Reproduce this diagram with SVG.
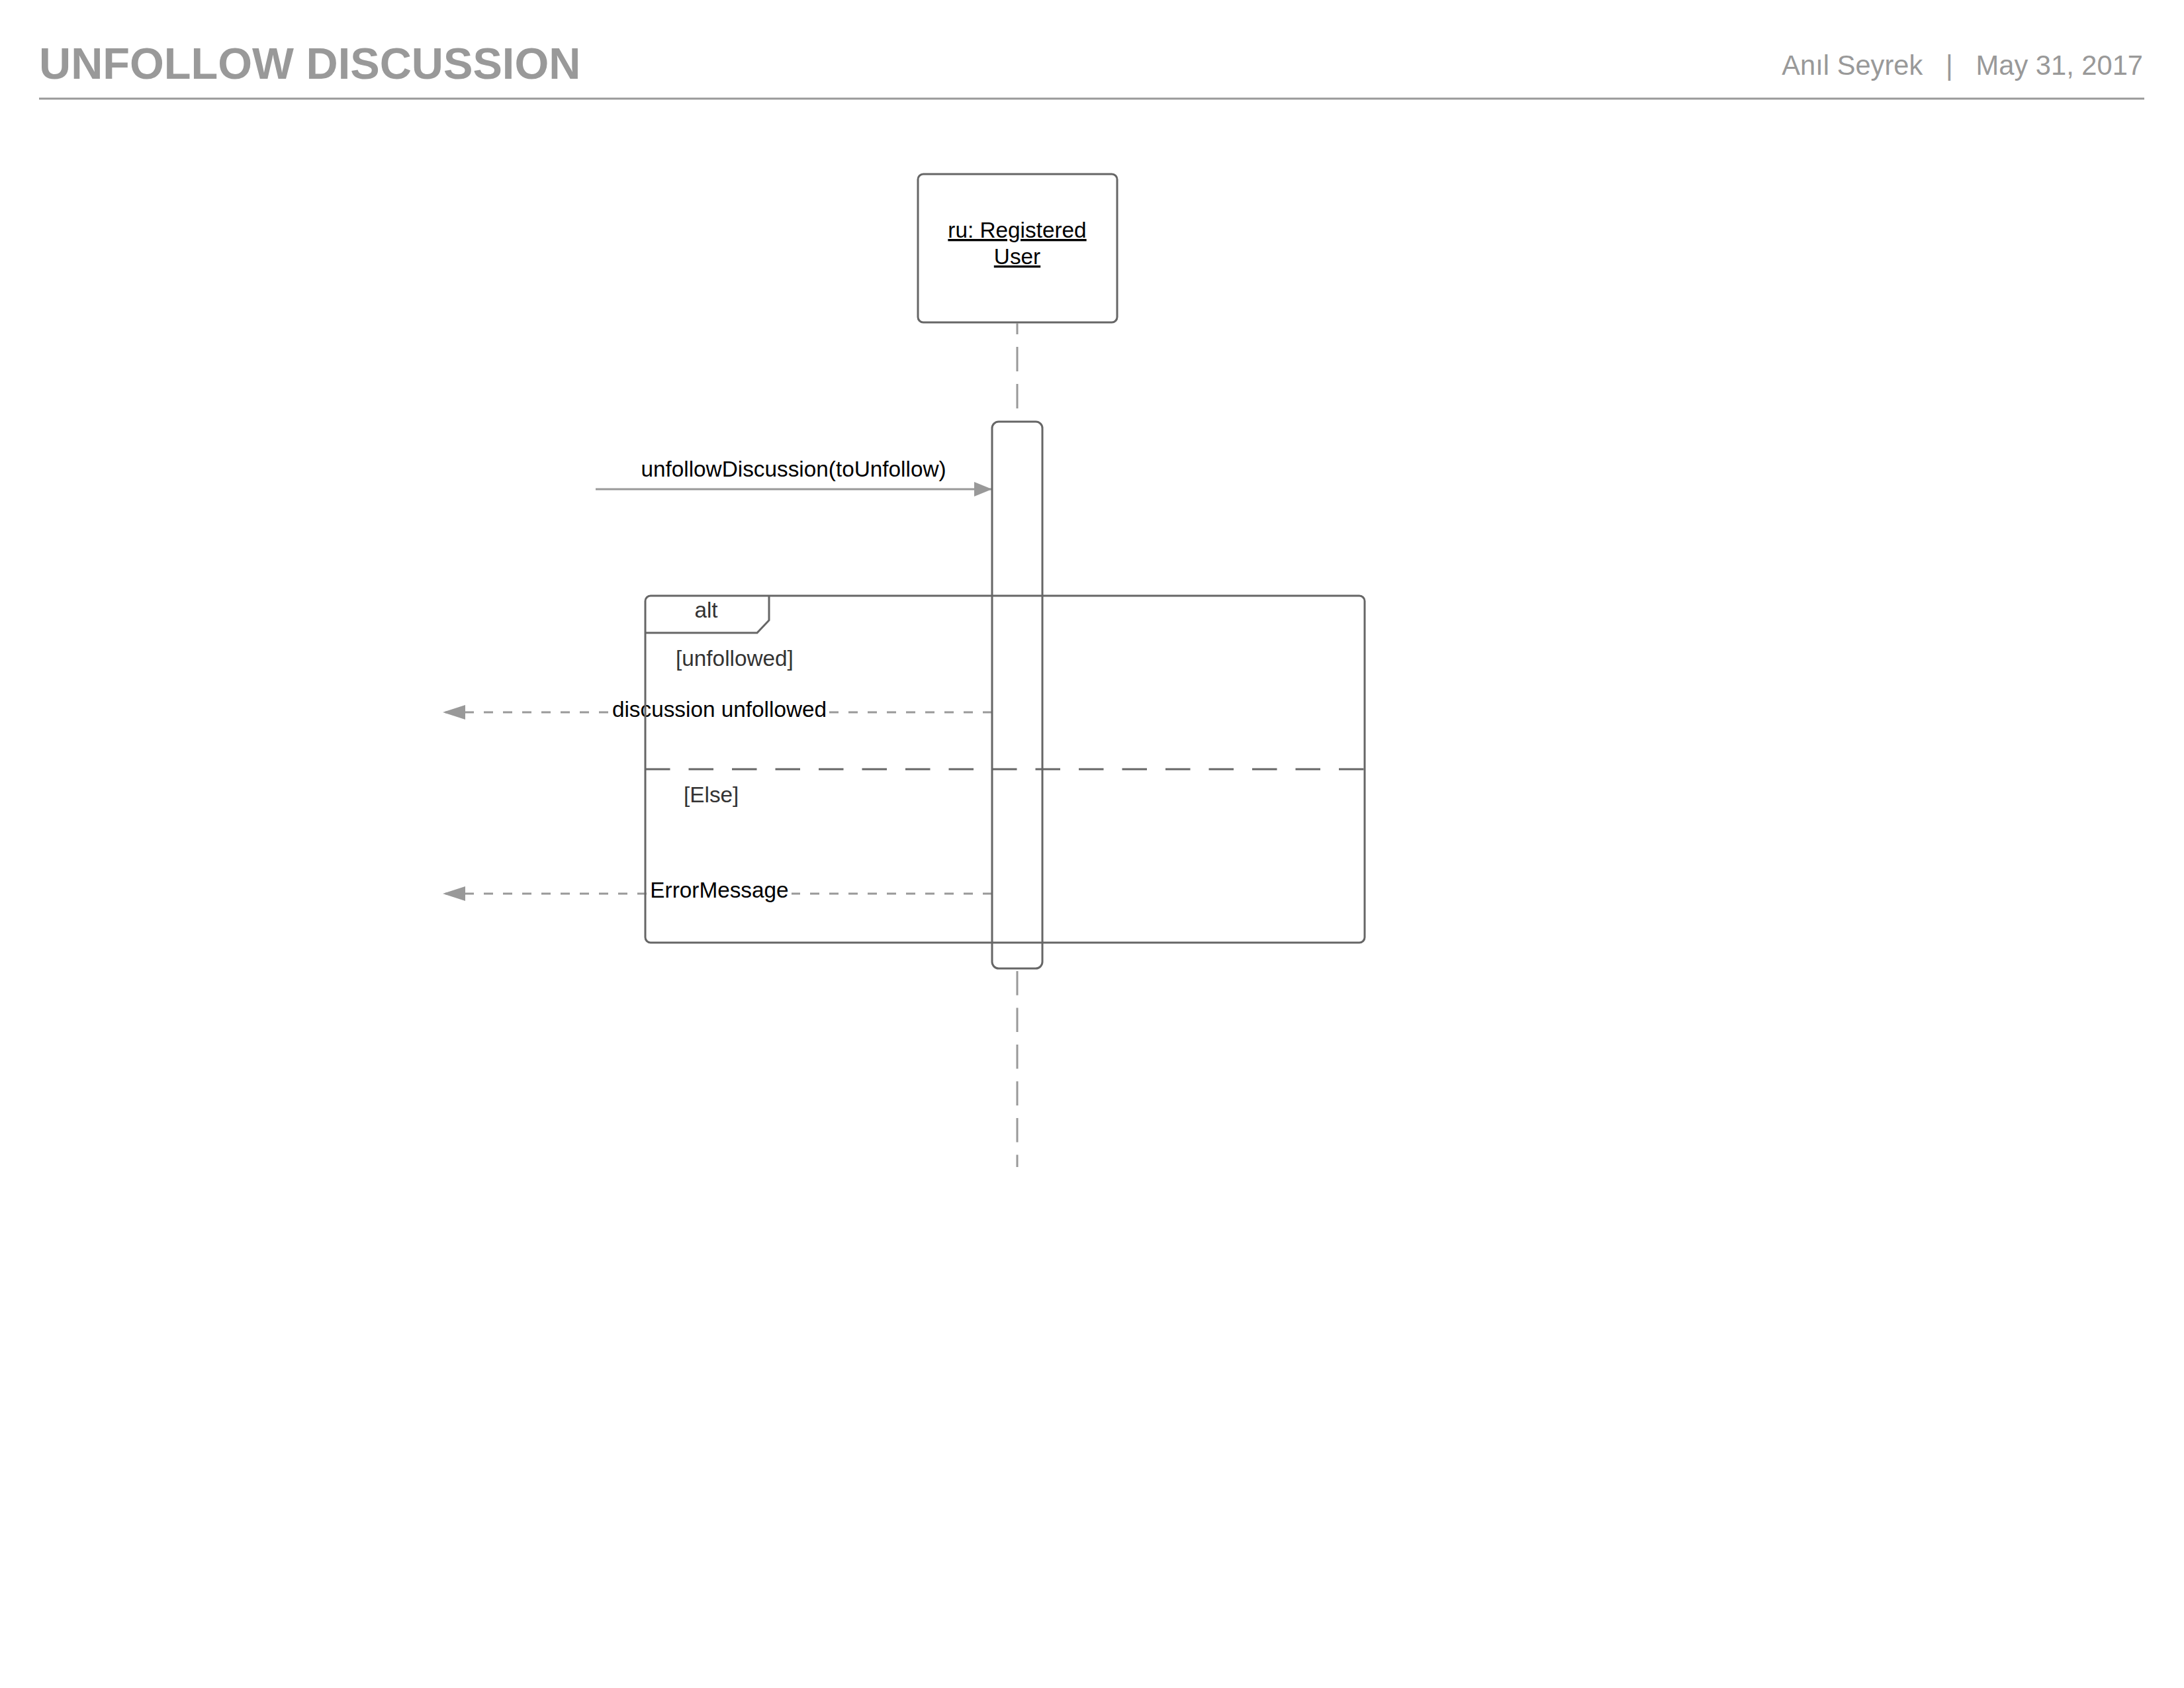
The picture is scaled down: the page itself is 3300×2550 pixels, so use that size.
<svg xmlns="http://www.w3.org/2000/svg" width="3300" height="2550" viewBox="0 0 3300 2550">
<style>
.hdr{font-family:"Liberation Sans",Arial,sans-serif;fill:#999999}
.t{font-family:"Liberation Sans",Arial,sans-serif;font-size:33.33px}
.box{fill:#ffffff;stroke:#666666;stroke-width:3}
.frame{fill:none;stroke:#666666;stroke-width:3}
.life{stroke:#999999;stroke-width:3;fill:none}
.msg{stroke:#999999;stroke-width:3;fill:none}
.ret{stroke:#999999;stroke-width:3;fill:none;stroke-dasharray:14 15}
.lbg{fill:#ffffff}
</style>
<defs>
<marker id="callHead" markerUnits="userSpaceOnUse" markerWidth="28" markerHeight="24" viewBox="0 -12 28 24" refX="27" refY="0" orient="auto">
<path d="M0,-11 L27,0 L0,11 z" fill="#999999"/>
</marker>
<marker id="retHead" markerUnits="userSpaceOnUse" markerWidth="35" markerHeight="24" viewBox="0 -12 35 24" refX="34" refY="0" orient="auto">
<path d="M0,-11 L34,0 L0,11 z" fill="#999999"/>
</marker>
</defs>
<rect width="3300" height="2550" fill="#ffffff"/>

<g id="header">
<text class="hdr" x="59" y="119" font-size="66.67" font-weight="bold">UNFOLLOW DISCUSSION</text>
<text class="hdr" x="3238" y="113" font-size="41.67" text-anchor="end" xml:space="preserve">Anıl Seyrek   |   May 31, 2017</text>
<line x1="59" y1="149" x2="3240" y2="149" stroke="#999999" stroke-width="3"/>
</g>

<g id="participant-ru">
<rect class="box" x="1387" y="263" width="301" height="224" rx="8"/>
<text class="t" x="1537" y="359" text-anchor="middle" text-decoration="underline" fill="#000000">ru: Registered</text>
<text class="t" x="1537" y="399" text-anchor="middle" text-decoration="underline" fill="#000000">User</text>
</g>

<g id="lifeline-ru">
<line class="life" x1="1537" y1="617" x2="1537" y2="488" stroke-dasharray="37 19"/>
<line class="life" x1="1537" y1="1467" x2="1537" y2="1763" stroke-dasharray="36.5 19"/>
</g>

<g id="connectors">
<line class="msg" x1="900" y1="739" x2="1499" y2="739" marker-end="url(#callHead)"/>
<text class="t" x="1199" y="720" text-anchor="middle" fill="#000000">unfollowDiscussion(toUnfollow)</text>

<line class="ret" x1="1499" y1="1076" x2="669" y2="1076" marker-end="url(#retHead)"/>
<rect class="lbg" x="921" y="1056" width="331" height="36"/>
<text class="t" x="1087" y="1083" text-anchor="middle" fill="#000000">discussion unfollowed</text>

<line class="ret" x1="1499" y1="1350" x2="669" y2="1350" marker-end="url(#retHead)"/>
<rect class="lbg" x="979" y="1330" width="217" height="38"/>
<text class="t" x="1087" y="1356" text-anchor="middle" fill="#000000">ErrorMessage</text>
</g>

<g id="alt-frame">
<rect class="frame" x="975" y="900" width="1087" height="524" rx="8"/>
<path class="frame" d="M975,956 H1144 L1162,937 V900"/>
<text class="t" x="1067" y="933" text-anchor="middle" fill="#333333">alt</text>
<text class="t" x="1021" y="1006" fill="#333333">[unfollowed]</text>
<line x1="975" y1="1162" x2="2062" y2="1162" stroke="#666666" stroke-width="3" stroke-dasharray="37.5 28"/>
<text class="t" x="1033" y="1212" fill="#333333">[Else]</text>
</g>

<g id="activation-ru">
<rect x="1499" y="637" width="76" height="826" rx="10" fill="none" stroke="#666666" stroke-width="3"/>
</g>
</svg>
